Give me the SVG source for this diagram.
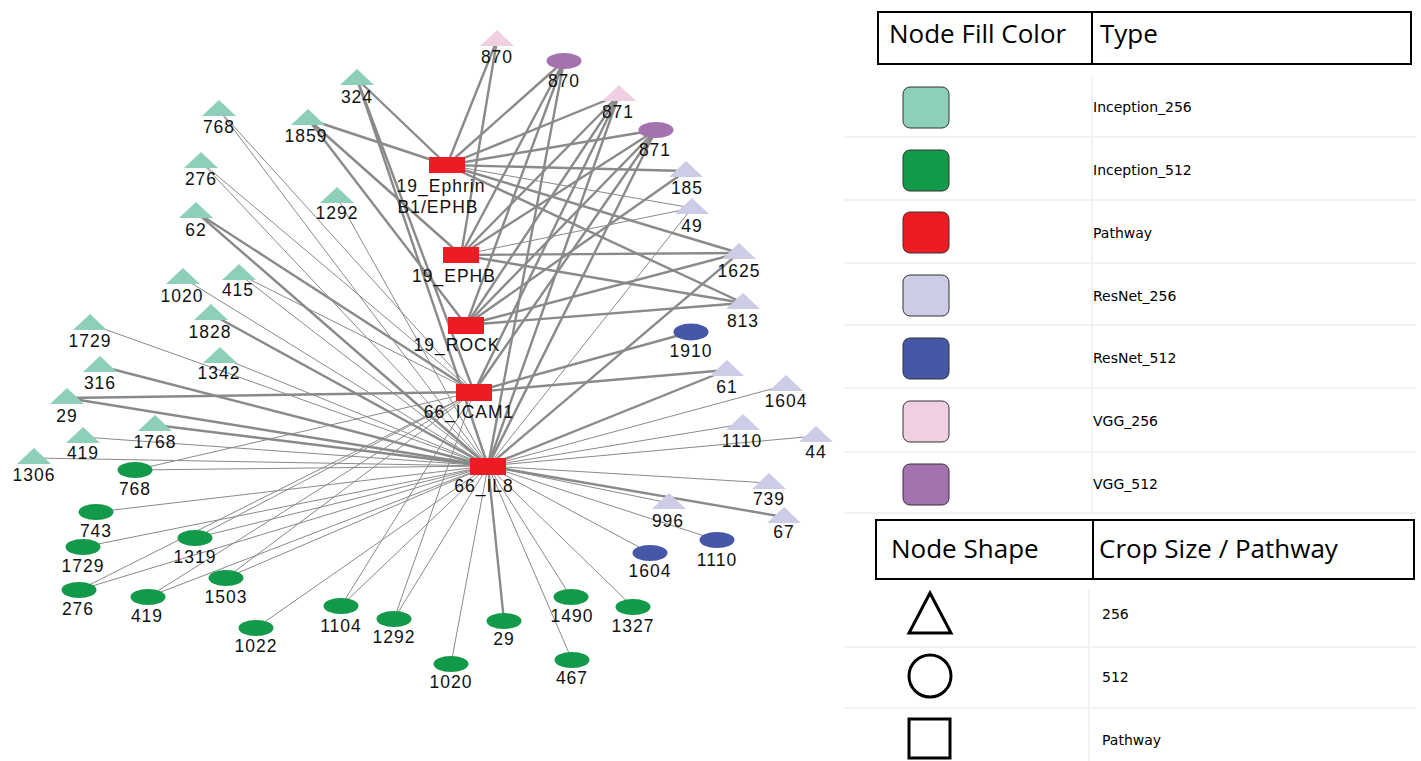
<svg xmlns="http://www.w3.org/2000/svg" width="1421" height="761" viewBox="0 0 1421 761">
<style>
.bg{fill:#ffffff}
.e{stroke:#8a8a8a;fill:none}
.k{stroke-width:2.4}
.t{stroke-width:1}
.i256{fill:#8dcfb8}
.i512{fill:#12994a}
.pw{fill:#ed1c24}
.r256{fill:#cdcce6}
.r512{fill:#4657a7}
.v256{fill:#f0cfe3}
.v512{fill:#a572b0}
.node text{font-family:"Liberation Sans",Arial,sans-serif;font-size:17.5px;letter-spacing:1px;fill:#111;text-anchor:middle}
.hdr{font-family:"Open Sans","Liberation Sans",sans-serif;font-size:26px;fill:#000}
.lbl{font-family:"DejaVu Sans",sans-serif;font-size:14px;fill:#000}
.grid{stroke:#eeeeee;stroke-width:1.5}
.box{fill:none;stroke:#000;stroke-width:2}
.sw{stroke:#333;stroke-width:1}
.shape{fill:#fff;stroke:#000;stroke-width:3}
</style>
<rect class="bg" x="0" y="0" width="1421" height="761"/>
<g id="connectors">
<!-- P1 19_Ephrin -->
<line class="e k" x1="447" y1="165" x2="357" y2="79"/>
<line class="e k" x1="447" y1="165" x2="308" y2="119"/>
<line class="e k" x1="447" y1="165" x2="497" y2="40"/>
<line class="e k" x1="447" y1="165" x2="564" y2="61"/>
<line class="e k" x1="447" y1="165" x2="619" y2="95"/>
<line class="e k" x1="447" y1="165" x2="656" y2="130"/>
<line class="e k" x1="447" y1="165" x2="686" y2="171"/>
<line class="e k" x1="447" y1="165" x2="739" y2="253"/>
<line class="e k" x1="447" y1="165" x2="743" y2="303"/>
<line class="e t" x1="447" y1="165" x2="692" y2="208"/>
<!-- P2 19_EPHB -->
<line class="e k" x1="461" y1="255" x2="497" y2="40"/>
<line class="e k" x1="461" y1="255" x2="308" y2="119"/>
<line class="e k" x1="461" y1="255" x2="564" y2="61"/>
<line class="e k" x1="461" y1="255" x2="619" y2="95"/>
<line class="e k" x1="461" y1="255" x2="656" y2="130"/>
<line class="e k" x1="461" y1="255" x2="739" y2="253"/>
<line class="e k" x1="461" y1="255" x2="743" y2="303"/>
<line class="e t" x1="461" y1="255" x2="692" y2="208"/>
<!-- P3 19_ROCK -->
<line class="e k" x1="466" y1="325" x2="308" y2="119"/>
<line class="e k" x1="466" y1="325" x2="564" y2="61"/>
<line class="e k" x1="466" y1="325" x2="619" y2="95"/>
<line class="e k" x1="466" y1="325" x2="656" y2="130"/>
<line class="e k" x1="466" y1="325" x2="686" y2="171"/>
<line class="e k" x1="466" y1="325" x2="739" y2="253"/>
<line class="e k" x1="466" y1="325" x2="743" y2="303"/>
<!-- P4 66_ICAM1 -->
<line class="e k" x1="474" y1="392" x2="619" y2="95"/>
<line class="e k" x1="474" y1="392" x2="656" y2="130"/>
<line class="e k" x1="474" y1="392" x2="691" y2="332"/>
<line class="e k" x1="474" y1="392" x2="727" y2="370"/>
<line class="e k" x1="474" y1="392" x2="67" y2="398"/>
<line class="e k" x1="474" y1="392" x2="196" y2="212"/>
<line class="e k" x1="474" y1="392" x2="357" y2="79"/>
<line class="e t" x1="474" y1="392" x2="219" y2="110"/>
<line class="e t" x1="474" y1="392" x2="201" y2="162"/>
<line class="e t" x1="474" y1="392" x2="135" y2="470"/>
<line class="e t" x1="474" y1="392" x2="79" y2="590"/>
<line class="e t" x1="474" y1="392" x2="148" y2="597"/>
<line class="e t" x1="474" y1="392" x2="226" y2="578"/>
<line class="e t" x1="474" y1="392" x2="341" y2="606"/>
<line class="e t" x1="474" y1="392" x2="394" y2="619"/>
<line class="e t" x1="474" y1="392" x2="195" y2="538"/>
<line class="e t" x1="474" y1="392" x2="239" y2="274"/>
<!-- P5 66_IL8 -->
<line class="e k" x1="488" y1="466" x2="564" y2="61"/>
<line class="e k" x1="488" y1="466" x2="619" y2="95"/>
<line class="e k" x1="488" y1="466" x2="656" y2="130"/>
<line class="e k" x1="488" y1="466" x2="739" y2="253"/>
<line class="e k" x1="488" y1="466" x2="727" y2="370"/>
<line class="e k" x1="488" y1="466" x2="784" y2="517"/>
<line class="e k" x1="488" y1="466" x2="357" y2="79"/>
<line class="e k" x1="488" y1="466" x2="196" y2="212"/>
<line class="e k" x1="488" y1="466" x2="211" y2="314"/>
<line class="e k" x1="488" y1="466" x2="100" y2="366"/>
<line class="e k" x1="488" y1="466" x2="67" y2="398"/>
<line class="e k" x1="488" y1="466" x2="155" y2="425"/>
<line class="e k" x1="488" y1="466" x2="504" y2="621"/>
<line class="e t" x1="488" y1="466" x2="692" y2="208"/>
<line class="e t" x1="488" y1="466" x2="786" y2="385"/>
<line class="e t" x1="488" y1="466" x2="743" y2="424"/>
<line class="e t" x1="488" y1="466" x2="816" y2="436"/>
<line class="e t" x1="488" y1="466" x2="769" y2="483"/>
<line class="e t" x1="488" y1="466" x2="669" y2="503"/>
<line class="e t" x1="488" y1="466" x2="717" y2="540"/>
<line class="e t" x1="488" y1="466" x2="650" y2="553"/>
<line class="e t" x1="488" y1="466" x2="219" y2="110"/>
<line class="e t" x1="488" y1="466" x2="201" y2="162"/>
<line class="e t" x1="488" y1="466" x2="337" y2="197"/>
<line class="e t" x1="488" y1="466" x2="183" y2="278"/>
<line class="e t" x1="488" y1="466" x2="239" y2="274"/>
<line class="e t" x1="488" y1="466" x2="90" y2="324"/>
<line class="e t" x1="488" y1="466" x2="220" y2="357"/>
<line class="e t" x1="488" y1="466" x2="83" y2="437"/>
<line class="e t" x1="488" y1="466" x2="34" y2="458"/>
<line class="e t" x1="488" y1="466" x2="135" y2="470"/>
<line class="e t" x1="488" y1="466" x2="96" y2="512"/>
<line class="e t" x1="488" y1="466" x2="83" y2="547"/>
<line class="e t" x1="488" y1="466" x2="195" y2="538"/>
<line class="e t" x1="488" y1="466" x2="79" y2="590"/>
<line class="e t" x1="488" y1="466" x2="148" y2="597"/>
<line class="e t" x1="488" y1="466" x2="226" y2="578"/>
<line class="e t" x1="488" y1="466" x2="256" y2="628"/>
<line class="e t" x1="488" y1="466" x2="341" y2="606"/>
<line class="e t" x1="488" y1="466" x2="394" y2="619"/>
<line class="e t" x1="488" y1="466" x2="451" y2="664"/>
<line class="e t" x1="488" y1="466" x2="571" y2="597"/>
<line class="e t" x1="488" y1="466" x2="572" y2="660"/>
<line class="e t" x1="488" y1="466" x2="633" y2="607"/>
</g>
<g id="nodes">
<g id="n-ephrin" class="node"><rect class="pw" x="429" y="157" width="36" height="16"/><text x="441" y="192">19_Ephrin</text><text x="438" y="213">B1/EPHB</text></g>
<g id="n-ephb" class="node"><rect class="pw" x="443" y="247" width="36" height="16"/><text x="454" y="282">19_EPHB</text></g>
<g id="n-rock" class="node"><rect class="pw" x="448" y="317" width="36" height="17"/><text x="457" y="351">19_ROCK</text></g>
<g id="n-icam1" class="node"><rect class="pw" x="456" y="384" width="36" height="17"/><text x="469" y="418">66_ICAM1</text></g>
<g id="n-il8" class="node"><rect class="pw" x="470" y="458" width="36" height="17"/><text x="484" y="492">66_IL8</text></g>

<g id="n-i324" class="node"><polygon class="i256" points="340,85 374,85 357,69"/><text x="357" y="103">324</text></g>
<g id="n-i768" class="node"><polygon class="i256" points="202,116 236,116 219,100"/><text x="219" y="133">768</text></g>
<g id="n-i1859" class="node"><polygon class="i256" points="291,125 325,125 308,109"/><text x="306" y="142">1859</text></g>
<g id="n-i276" class="node"><polygon class="i256" points="184,168 218,168 201,152"/><text x="201" y="185">276</text></g>
<g id="n-i1292" class="node"><polygon class="i256" points="320,203 354,203 337,187"/><text x="337" y="219">1292</text></g>
<g id="n-i62" class="node"><polygon class="i256" points="179,218 213,218 196,202"/><text x="196" y="236">62</text></g>
<g id="n-i1020" class="node"><polygon class="i256" points="166,284 200,284 183,268"/><text x="182" y="302">1020</text></g>
<g id="n-i415" class="node"><polygon class="i256" points="222,280 256,280 239,264"/><text x="238" y="296">415</text></g>
<g id="n-i1828" class="node"><polygon class="i256" points="194,320 228,320 211,304"/><text x="210" y="338">1828</text></g>
<g id="n-i1729" class="node"><polygon class="i256" points="73,330 107,330 90,314"/><text x="90" y="347">1729</text></g>
<g id="n-i316" class="node"><polygon class="i256" points="83,372 117,372 100,356"/><text x="100" y="389">316</text></g>
<g id="n-i1342" class="node"><polygon class="i256" points="203,363 237,363 220,347"/><text x="219" y="379">1342</text></g>
<g id="n-i29" class="node"><polygon class="i256" points="50,404 84,404 67,388"/><text x="67" y="422">29</text></g>
<g id="n-i1768" class="node"><polygon class="i256" points="138,431 172,431 155,415"/><text x="155" y="448">1768</text></g>
<g id="n-i419" class="node"><polygon class="i256" points="66,443 100,443 83,427"/><text x="83" y="459">419</text></g>
<g id="n-i1306" class="node"><polygon class="i256" points="17,464 51,464 34,448"/><text x="34" y="481">1306</text></g>

<g id="n-g768" class="node"><ellipse class="i512" cx="135" cy="470" rx="17.5" ry="8"/><text x="135" y="495">768</text></g>
<g id="n-g743" class="node"><ellipse class="i512" cx="96" cy="512" rx="17.5" ry="8"/><text x="96" y="537">743</text></g>
<g id="n-g1729" class="node"><ellipse class="i512" cx="83" cy="547" rx="17.5" ry="8"/><text x="83" y="572">1729</text></g>
<g id="n-g1319" class="node"><ellipse class="i512" cx="195" cy="538" rx="17.5" ry="8"/><text x="195" y="563">1319</text></g>
<g id="n-g276" class="node"><ellipse class="i512" cx="79" cy="590" rx="17.5" ry="8"/><text x="78" y="615">276</text></g>
<g id="n-g419" class="node"><ellipse class="i512" cx="148" cy="597" rx="17.5" ry="8"/><text x="147" y="622">419</text></g>
<g id="n-g1503" class="node"><ellipse class="i512" cx="226" cy="578" rx="17.5" ry="8"/><text x="226" y="603">1503</text></g>
<g id="n-g1022" class="node"><ellipse class="i512" cx="256" cy="628" rx="17.5" ry="8"/><text x="256" y="652">1022</text></g>
<g id="n-g1104" class="node"><ellipse class="i512" cx="341" cy="606" rx="17.5" ry="8"/><text x="341" y="632">1104</text></g>
<g id="n-g1292" class="node"><ellipse class="i512" cx="394" cy="619" rx="17.5" ry="8"/><text x="394" y="643">1292</text></g>
<g id="n-g1020" class="node"><ellipse class="i512" cx="451" cy="664" rx="17.5" ry="8"/><text x="451" y="688">1020</text></g>
<g id="n-g29" class="node"><ellipse class="i512" cx="504" cy="621" rx="17.5" ry="8"/><text x="504" y="645">29</text></g>
<g id="n-g1490" class="node"><ellipse class="i512" cx="571" cy="597" rx="17.5" ry="8"/><text x="572" y="622">1490</text></g>
<g id="n-g467" class="node"><ellipse class="i512" cx="572" cy="660" rx="17.5" ry="8"/><text x="572" y="684">467</text></g>
<g id="n-g1327" class="node"><ellipse class="i512" cx="633" cy="607" rx="17.5" ry="8"/><text x="633" y="632">1327</text></g>

<g id="n-v870t" class="node"><polygon class="v256" points="480,46 514,46 497,30"/><text x="497" y="63">870</text></g>
<g id="n-v870e" class="node"><ellipse class="v512" cx="564" cy="61" rx="17.5" ry="8"/><text x="564" y="87">870</text></g>
<g id="n-v871t" class="node"><polygon class="v256" points="602,101 636,101 619,85"/><text x="618" y="118">871</text></g>
<g id="n-v871e" class="node"><ellipse class="v512" cx="656" cy="130" rx="17.5" ry="8"/><text x="655" y="156">871</text></g>

<g id="n-r185" class="node"><polygon class="r256" points="669,177 703,177 686,161"/><text x="687" y="194">185</text></g>
<g id="n-r49" class="node"><polygon class="r256" points="675,214 709,214 692,198"/><text x="692" y="232">49</text></g>
<g id="n-r1625" class="node"><polygon class="r256" points="722,259 756,259 739,243"/><text x="739" y="277">1625</text></g>
<g id="n-r813" class="node"><polygon class="r256" points="726,309 760,309 743,293"/><text x="743" y="327">813</text></g>
<g id="n-r1910" class="node"><ellipse class="r512" cx="691" cy="332" rx="17.5" ry="8.5"/><text x="691" y="357">1910</text></g>
<g id="n-r61" class="node"><polygon class="r256" points="710,376 744,376 727,360"/><text x="727" y="393">61</text></g>
<g id="n-r1604t" class="node"><polygon class="r256" points="769,391 803,391 786,375"/><text x="786" y="407">1604</text></g>
<g id="n-r1110t" class="node"><polygon class="r256" points="726,430 760,430 743,414"/><text x="742" y="447">1110</text></g>
<g id="n-r44" class="node"><polygon class="r256" points="799,442 833,442 816,426"/><text x="816" y="458">44</text></g>
<g id="n-r739" class="node"><polygon class="r256" points="752,489 786,489 769,473"/><text x="769" y="505">739</text></g>
<g id="n-r996" class="node"><polygon class="r256" points="652,509 686,509 669,493"/><text x="668" y="527">996</text></g>
<g id="n-r67" class="node"><polygon class="r256" points="767,523 801,523 784,507"/><text x="784" y="538">67</text></g>
<g id="n-r1110e" class="node"><ellipse class="r512" cx="717" cy="540" rx="17.5" ry="8"/><text x="717" y="566">1110</text></g>
<g id="n-r1604e" class="node"><ellipse class="r512" cx="650" cy="553" rx="17.5" ry="8"/><text x="650" y="577">1604</text></g>
</g>

<g id="legend-color">
<line class="grid" x1="844" y1="137" x2="1416" y2="137"/>
<line class="grid" x1="844" y1="200" x2="1416" y2="200"/>
<line class="grid" x1="844" y1="263" x2="1416" y2="263"/>
<line class="grid" x1="844" y1="325" x2="1416" y2="325"/>
<line class="grid" x1="844" y1="388" x2="1416" y2="388"/>
<line class="grid" x1="844" y1="452" x2="1416" y2="452"/>
<line class="grid" x1="844" y1="513" x2="1416" y2="513"/>
<line class="grid" x1="1092" y1="77" x2="1092" y2="513"/>
<rect class="box" x="878" y="12" width="533" height="52"/>
<line stroke="#000" stroke-width="2" x1="1092" y1="12" x2="1092" y2="64"/>
<text class="hdr" x="889" y="43">Node Fill Color</text>
<text class="hdr" x="1100" y="43">Type</text>
<rect class="sw i256" x="903" y="87" width="46" height="41" rx="7"/>
<text class="lbl" x="1093" y="112">Inception_256</text>
<rect class="sw i512" x="903" y="150" width="46" height="41" rx="7"/>
<text class="lbl" x="1093" y="175">Inception_512</text>
<rect class="sw pw" x="903" y="212" width="46" height="41" rx="7"/>
<text class="lbl" x="1093" y="238">Pathway</text>
<rect class="sw r256" x="903" y="275" width="46" height="41" rx="7"/>
<text class="lbl" x="1093" y="301">ResNet_256</text>
<rect class="sw r512" x="903" y="338" width="46" height="41" rx="7"/>
<text class="lbl" x="1093" y="363">ResNet_512</text>
<rect class="sw v256" x="903" y="401" width="46" height="41" rx="7"/>
<text class="lbl" x="1093" y="426">VGG_256</text>
<rect class="sw v512" x="903" y="464" width="46" height="41" rx="7"/>
<text class="lbl" x="1093" y="489">VGG_512</text>
</g>

<g id="legend-shape">
<line class="grid" x1="844" y1="647" x2="1416" y2="647"/>
<line class="grid" x1="844" y1="708" x2="1416" y2="708"/>
<line class="grid" x1="1089" y1="590" x2="1089" y2="761"/>
<rect class="box" x="876" y="520" width="538" height="59"/>
<line stroke="#000" stroke-width="2" x1="1093" y1="520" x2="1093" y2="579"/>
<text class="hdr" x="891" y="558">Node Shape</text>
<text class="hdr" x="1099" y="558">Crop Size / Pathway</text>
<polygon class="shape" points="909,633 951,633 930,593"/>
<text class="lbl" x="1102" y="619">256</text>
<circle class="shape" cx="930" cy="676" r="21"/>
<text class="lbl" x="1102" y="682">512</text>
<rect class="shape" x="909" y="719" width="41" height="39"/>
<text class="lbl" x="1102" y="745">Pathway</text>
</g>
</svg>
